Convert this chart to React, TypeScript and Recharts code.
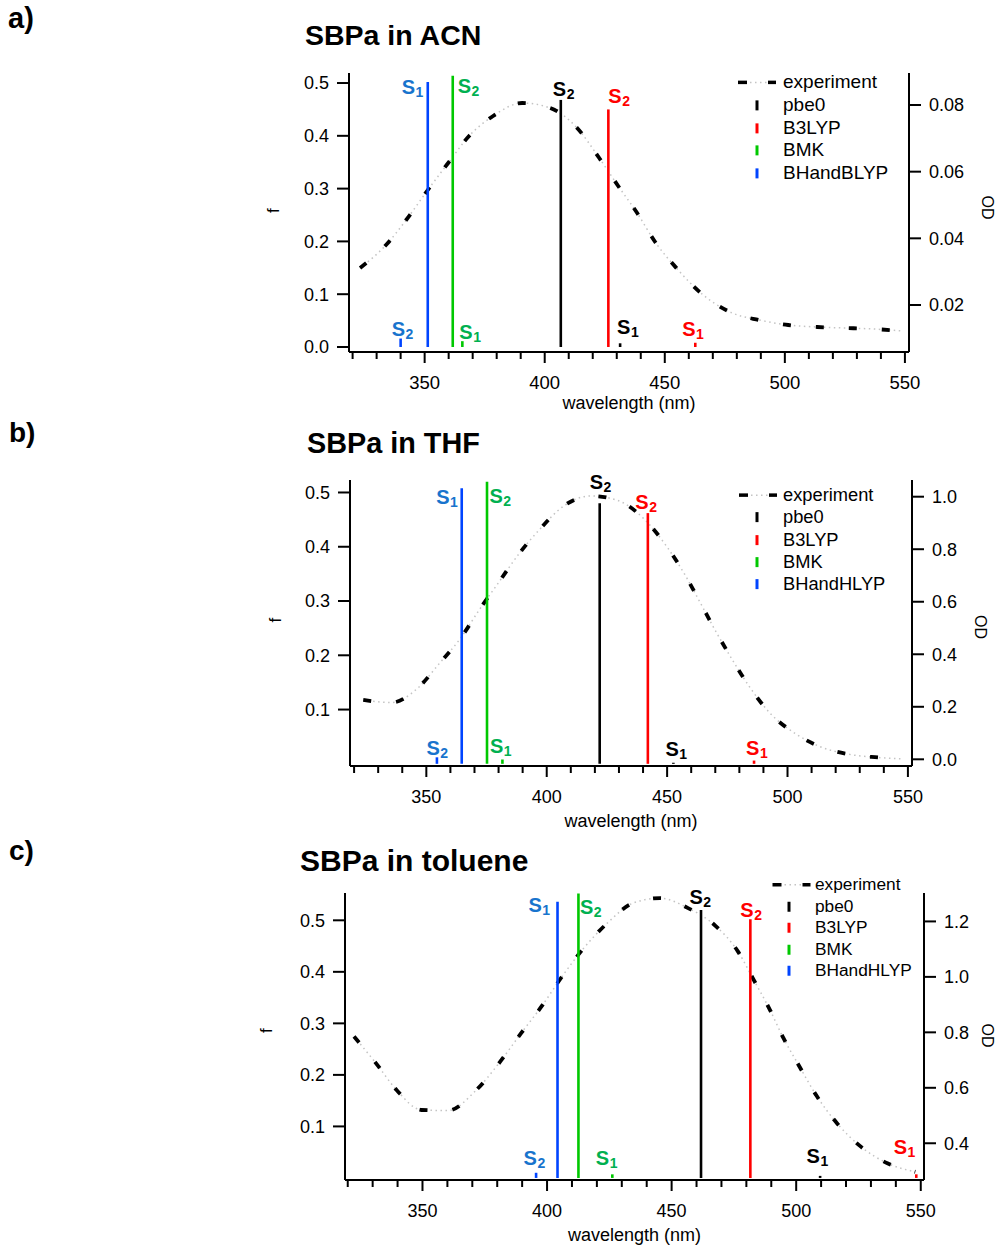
import React from 'react';
import { ComposedChart, Line, XAxis, YAxis, ReferenceLine, Legend } from 'recharts';

const FONT = '"Liberation Sans", Arial, Helvetica, sans-serif';

// ---------- shared categories ----------
const methodsA = ['pbe0', 'B3LYP', 'BMK', 'BHandBLYP'];
const methodsBC = ['pbe0', 'B3LYP', 'BMK', 'BHandHLYP'];
const lineColors = ['#000000', '#ff0000', '#00c800', '#0044ff'];
const labelColors = ['#000000', '#ff0000', '#00b050', '#1874cd'];
const xTicks = [320, 330, 340, 350, 360, 370, 380, 390, 400, 410, 420, 430, 440, 450, 460, 470, 480, 490, 500, 510, 520, 530, 540, 550];
const fTicksA = [0, 0.1, 0.2, 0.3, 0.4, 0.5];
const fTicksBC = [0.1, 0.2, 0.3, 0.4, 0.5];
const odTicksA = [0.02, 0.04, 0.06, 0.08];
const odTicksB = [0, 0.2, 0.4, 0.6, 0.8, 1.0];
const odTicksC = [0.4, 0.6, 0.8, 1.0, 1.2];

// ---------- panel a: ACN ----------
const acnExpNm = [323.1, 333.9, 342.3, 351.0, 359.8, 368.5, 378.5, 390.6, 402.3, 413.5, 422.7, 430.6, 438.5, 446.0, 455.2, 466.0, 478.1, 489.3, 501.4, 513.5, 525.2, 536.8, 548.9];
const acnExpOd = [0.0311, 0.038, 0.0455, 0.0542, 0.0626, 0.0707, 0.0767, 0.0806, 0.0791, 0.0731, 0.0641, 0.0557, 0.0476, 0.0389, 0.0308, 0.023, 0.0176, 0.0155, 0.014, 0.0134, 0.0131, 0.0128, 0.0122];
// order: pbe0, B3LYP, BMK, BHandBLYP
const acnS1Nm = [431.4, 462.7, 365.7, 351.3];
const acnS1F = [0.007, 0.008, 0.011, 0.502];
const acnS2Nm = [406.7, 426.5, 361.7, 340.0];
const acnS2F = [0.468, 0.45, 0.514, 0.016];

// ---------- panel b: THF ----------
const thfExpNm = [323.8, 335.5, 346.3, 355.5, 364.2, 372.4, 380.0, 388.1, 397.5, 407.1, 418.2, 429.4, 440.9, 450.1, 457.7, 463.9, 470.1, 476.7, 484.0, 492.6, 503.1, 513.6, 524.9, 536.3, 547.3];
const thfExpOd = [0.226, 0.216, 0.27, 0.366, 0.461, 0.575, 0.673, 0.778, 0.88, 0.965, 1.003, 0.986, 0.911, 0.807, 0.698, 0.594, 0.489, 0.385, 0.279, 0.177, 0.099, 0.048, 0.02, 0.008, 0.002];
const thfS1Nm = [452.6, 486.1, 381.6, 364.7];
const thfS1F = [0.002, 0.006, 0.008, 0.508];
const thfS2Nm = [422.0, 442.0, 375.2, 354.4];
const thfS2F = [0.48, 0.462, 0.52, 0.012];

// ---------- panel c: toluene ----------
const tolExpNm = [322.5, 331.3, 339.6, 349.6, 360.2, 371.6, 380.9, 389.6, 398.0, 405.6, 414.2, 424.2, 434.5, 445.3, 456.6, 467.6, 476.6, 482.9, 489.3, 494.9, 501.3, 508.2, 516.2, 526.2, 536.6, 547.8];
const tolExpOd = [0.785, 0.689, 0.592, 0.52, 0.518, 0.592, 0.691, 0.797, 0.896, 0.996, 1.098, 1.194, 1.266, 1.284, 1.248, 1.184, 1.092, 0.99, 0.884, 0.779, 0.677, 0.571, 0.474, 0.386, 0.328, 0.297];
const tolS1Nm = [509.6, 548.2, 426.2, 404.2];
const tolS1F = [0.004, 0.007, 0.007, 0.536];
const tolS2Nm = [461.8, 481.6, 412.6, 395.6];
const tolS2F = [0.52, 0.502, 0.552, 0.01];

// ---------- label placement (pixel offsets from line top; style only) ----------
const offA1 = [[-3, -9], [-13, -7], [-3, -2], [-26, 12.5]];
const offA2 = [[-8, -3.5], [0, -6], [5, 17.5], [-9, -2.5]];
const offB1 = [[-8, -6.5], [-8, -5.5], [-12.5, -6], [-25.5, 16]];
const offB2 = [[-10, -14], [-12.5, -4], [2.5, 21.5], [-10.5, -2.5]];
const offC1 = [[-13.5, -13], [-22.5, -20], [-16.5, -9], [-29, 10]];
const offC2 = [[-11.5, -6.5], [-10, -2.5], [1.5, 20], [-12.5, -7.5]];

function XTick(props: any) {
  const { x, y, payload, fontSize } = props;
  const major = payload.value % 50 === 0;
  return (
    <g>
      <line x1={x} x2={x} y1={y} y2={y + (major ? 11 : 7)} stroke="#000" strokeWidth={2} />
      {major && (
        <text x={x} y={y + 37} textAnchor="middle" fontSize={fontSize} fontFamily={FONT} fill="#000">
          {payload.value}
        </text>
      )}
    </g>
  );
}

function TransitionLabel(props: any) {
  const { viewBox, state, color, dx, dy } = props;
  if (!viewBox) return null;
  const x = viewBox.x + dx;
  const y = viewBox.y + dy;
  return (
    <text x={x} y={y} fill={color} fontFamily={FONT} fontWeight="bold" fontSize={20}>
      S
      <tspan fontSize={14} dx={0.5} dy={3}>
        {state}
      </tspan>
    </text>
  );
}

function XTitle(props: any) {
  const { viewBox, dy } = props;
  if (!viewBox) return null;
  return (
    <text x={viewBox.x + viewBox.width / 2} y={viewBox.y + dy} textAnchor="middle" fontSize={18} fontFamily={FONT} fill="#000">
      wavelength (nm)
    </text>
  );
}

function FTitle(props: any) {
  const { viewBox, dx, dy } = props;
  if (!viewBox) return null;
  const x = viewBox.x + viewBox.width + dx;
  const y = viewBox.y + viewBox.height / 2 + dy;
  return (
    <text x={x} y={y} transform={`rotate(-90 ${x} ${y})`} textAnchor="middle" dominantBaseline="central" fontSize={17} fontFamily={FONT} fill="#000">
      f
    </text>
  );
}

function ODTitle(props: any) {
  const { viewBox, dx, dy } = props;
  if (!viewBox) return null;
  const x = viewBox.x + dx;
  const y = viewBox.y + viewBox.height / 2 + dy;
  return (
    <text x={x} y={y} transform={`rotate(90 ${x} ${y})`} textAnchor="middle" dominantBaseline="central" fontSize={16} fontFamily={FONT} fill="#000">
      OD
    </text>
  );
}

function LegendBox({ names, fontSize, rowH, dashStart }: any) {
  const mid = rowH / 2;
  return (
    <div style={{ fontFamily: FONT, fontSize, color: '#000', lineHeight: `${rowH}px`, whiteSpace: 'nowrap' }}>
      <div style={{ display: 'flex', alignItems: 'center', height: rowH }}>
        <svg width={47} height={rowH} style={{ flex: 'none' }}>
          <line x1={dashStart + 12} x2={dashStart + 29} y1={mid} y2={mid} stroke="#c4c4c4" strokeWidth={1.5} strokeDasharray="1.5 3.5" />
          <line x1={dashStart} x2={dashStart + 9} y1={mid} y2={mid} stroke="#000" strokeWidth={3.5} />
          <line x1={dashStart + 30} x2={dashStart + 38} y1={mid} y2={mid} stroke="#000" strokeWidth={3.5} />
        </svg>
        <span>experiment</span>
      </div>
      {names.map((n: string, i: number) => (
        <div key={n} style={{ display: 'flex', alignItems: 'center', height: rowH }}>
          <svg width={47} height={rowH} style={{ flex: 'none' }}>
            <line x1={21} x2={21} y1={mid - 5} y2={mid + 5} stroke={lineColors[i]} strokeWidth={3} />
          </svg>
          <span>{n}</span>
        </div>
      ))}
    </div>
  );
}

function Panel(p: any) {
  const data = p.expNm.map((nm: number, i: number) => ({ nm, od: p.expOd[i] }));
  const trans: any[] = [];
  p.names.forEach((_: string, i: number) => {
    trans.push({ key: `s1-${i}`, nm: p.s1Nm[i], f: p.s1F[i], state: '1', i, off: p.off1[i] });
    trans.push({ key: `s2-${i}`, nm: p.s2Nm[i], f: p.s2F[i], state: '2', i, off: p.off2[i] });
  });
  const axisLine = { stroke: '#000', strokeWidth: 2 };
  const tickStyle = { fill: '#000', fontSize: 18, fontFamily: FONT };
  return (
    <div style={{ position: 'absolute', left: 0, top: p.top }}>
      <ComposedChart width={998} height={p.height} data={data} margin={p.margin}>
        <XAxis
          type="number"
          dataKey="nm"
          domain={p.xDomain}
          allowDataOverflow
          ticks={xTicks}
          interval={0}
          tickSize={0}
          tickMargin={0}
          tickLine={false}
          axisLine={axisLine}
          height={50}
          tick={<XTick fontSize={p.xFont} />}
          label={<XTitle dy={p.xTitleDy} />}
        />
        <YAxis
          yAxisId="f"
          orientation="left"
          type="number"
          domain={p.fDomain}
          allowDataOverflow
          ticks={p.fTicks}
          interval={0}
          width={60}
          tickSize={12}
          tickMargin={8}
          axisLine={axisLine}
          tickLine={{ stroke: '#000', strokeWidth: 2 }}
          tick={tickStyle}
          tickFormatter={(v: number) => v.toFixed(1)}
          label={<FTitle dx={p.fDx} dy={p.fDy} />}
        />
        <YAxis
          yAxisId="od"
          orientation="right"
          type="number"
          domain={p.odDomain}
          allowDataOverflow
          ticks={p.odTicks}
          interval={0}
          width={60}
          tickSize={12}
          tickMargin={8}
          axisLine={axisLine}
          tickLine={{ stroke: '#000', strokeWidth: 2 }}
          tick={tickStyle}
          tickFormatter={(v: number) => v.toFixed(p.odDigits)}
          label={<ODTitle dx={p.odDx} dy={p.odDy} />}
        />
        <Line yAxisId="od" dataKey="od" type="monotone" stroke="#c4c4c4" strokeWidth={1.5} strokeDasharray="1.5 3.5" dot={false} activeDot={false} isAnimationActive={false} />
        <Line yAxisId="od" dataKey="od" type="monotone" stroke="#000" strokeWidth={3.8} strokeDasharray="8 25" dot={false} activeDot={false} isAnimationActive={false} />
        {trans.map((t) => (
          <ReferenceLine
            key={t.key}
            yAxisId="f"
            segment={[{ x: t.nm, y: 0 }, { x: t.nm, y: t.f }]}
            stroke={lineColors[t.i]}
            strokeWidth={2.6}
            ifOverflow="visible"
            label={<TransitionLabel state={t.state} color={labelColors[t.i]} dx={t.off[0]} dy={t.off[1]} />}
          />
        ))}
        <Legend
          verticalAlign="middle"
          align="center"
          layout="horizontal"
          wrapperStyle={{ left: p.legendLeft, top: p.legendTop, width: 230, height: 'auto' }}
          content={() => <LegendBox names={p.names} fontSize={p.legendFont} rowH={p.legendRow} dashStart={p.legendDash} />}
        />
      </ComposedChart>
    </div>
  );
}

export default function App() {
  return (
    <div style={{ position: 'absolute', left: 0, top: 0, width: 998, height: 1245, background: '#fff', overflow: 'hidden' }}>
      <Panel
        top={0}
        height={420}
        margin={{ top: 73, right: 29, bottom: 18, left: 289 }}
        xDomain={[318.5, 551.7]}
        fDomain={[-0.0095, 0.519]}
        fTicks={fTicksA}
        odDomain={[0.0059, 0.0896]}
        odTicks={odTicksA}
        odDigits={2}
        expNm={acnExpNm}
        expOd={acnExpOd}
        names={methodsA}
        s1Nm={acnS1Nm}
        s1F={acnS1F}
        s2Nm={acnS2Nm}
        s2F={acnS2F}
        off1={offA1}
        off2={offA2}
        xFont={18.5}
        xTitleDy={57}
        fDx={-76}
        fDy={-2}
        odDx={78}
        odDy={-5}
        legendLeft={736}
        legendTop={71}
        legendFont={19}
        legendRow={22.75}
        legendDash={2}
      />
      <Panel
        top={420}
        height={420}
        margin={{ top: 60, right: 26, bottom: 24, left: 290 }}
        xDomain={[318.3, 551.7]}
        fDomain={[-0.004, 0.523]}
        fTicks={fTicksBC}
        odDomain={[-0.0255, 1.0636]}
        odTicks={odTicksB}
        odDigits={1}
        expNm={thfExpNm}
        expOd={thfExpOd}
        names={methodsBC}
        s1Nm={thfS1Nm}
        s1F={thfS1F}
        s2Nm={thfS2Nm}
        s2F={thfS2F}
        off1={offB1}
        off2={offB2}
        xFont={18}
        xTitleDy={61}
        fDx={-75}
        fDy={-3}
        odDx={68}
        odDy={4}
        legendLeft={736}
        legendTop={64}
        legendFont={18.3}
        legendRow={22.25}
        legendDash={3}
      />
      <Panel
        top={840}
        height={405}
        margin={{ top: 53, right: 14, bottom: 15, left: 285 }}
        xDomain={[318.9, 551.3]}
        fDomain={[-0.004, 0.553]}
        fTicks={fTicksBC}
        odDomain={[0.2675, 1.3025]}
        odTicks={odTicksC}
        odDigits={1}
        expNm={tolExpNm}
        expOd={tolExpOd}
        names={methodsBC}
        s1Nm={tolS1Nm}
        s1F={tolS1F}
        s2Nm={tolS2Nm}
        s2F={tolS2F}
        off1={offC1}
        off2={offC2}
        xFont={18}
        xTitleDy={61}
        fDx={-79}
        fDy={-6}
        odDx={63}
        odDy={-1}
        legendLeft={768}
        legendTop={34}
        legendFont={17.3}
        legendRow={21.5}
        legendDash={4.5}
      />
      <svg width={998} height={1245} style={{ position: 'absolute', left: 0, top: 0, pointerEvents: 'none' }}>
        <g fontFamily={FONT} fontWeight="bold" fill="#000">
          <text x={8} y={28} fontSize={29}>a)</text>
          <text x={305} y={45} fontSize={28.5}>SBPa in ACN</text>
          <text x={9} y={442} fontSize={28}>b)</text>
          <text x={307} y={453} fontSize={28.8}>SBPa in THF</text>
          <text x={9} y={860} fontSize={28}>c)</text>
          <text x={300} y={871} fontSize={30}>SBPa in toluene</text>
        </g>
      </svg>
    </div>
  );
}
